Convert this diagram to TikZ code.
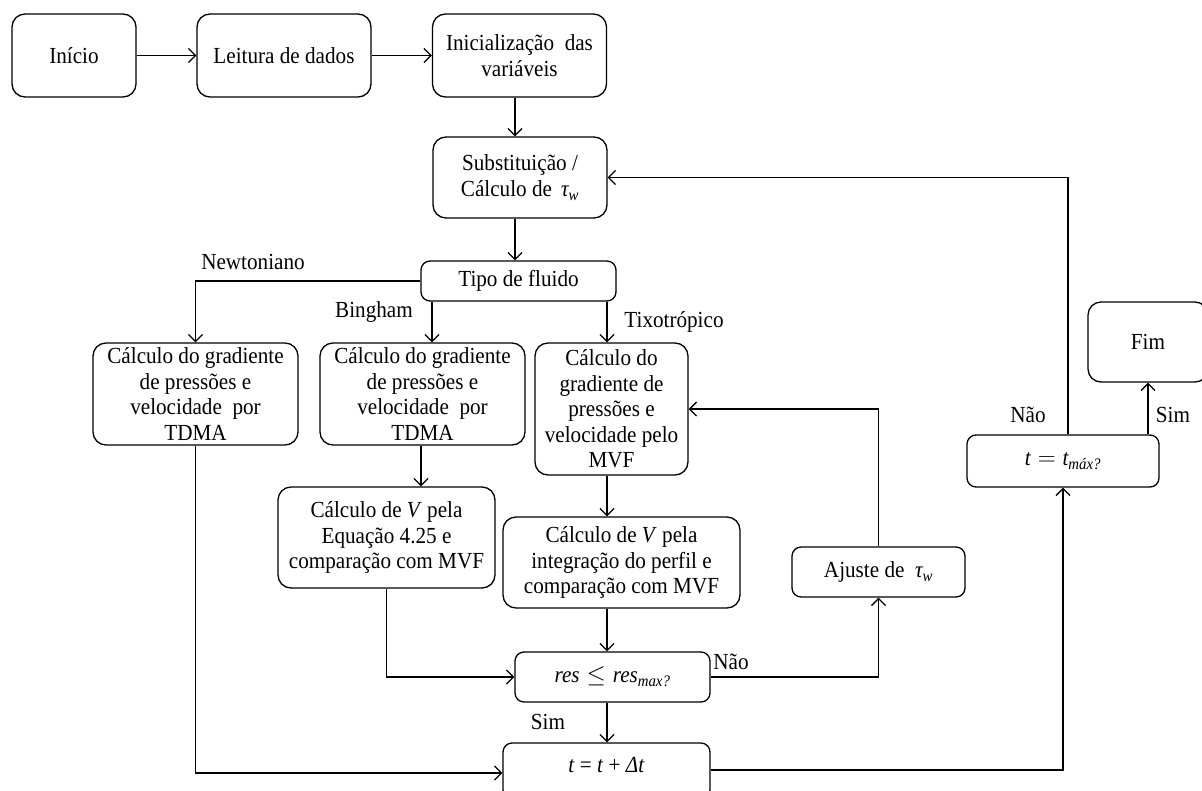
\documentclass[tikz,border=0pt]{standalone}
\usepackage{amsmath}
\usepackage{fontspec}
\setmainfont{Liberation Serif}[FakeStretch=0.92]
\usetikzlibrary{arrows.meta,calc}
\begin{document}
\begin{tikzpicture}[x=1pt,y=-1pt,
  box/.style={draw, line width=1.3pt, rounded corners=13pt, align=center, inner sep=2pt, font=\fontsize{23}{25.5}\selectfont},
  sbox/.style={box, rounded corners=9pt},
  lbl/.style={font=\fontsize{23}{25.5}\selectfont, inner sep=0pt},
  arr/.style={line width=1.3pt, -{Straight Barb[length=7pt,width=14pt,line width=1.3pt]}}]
\useasboundingbox (0,0) rectangle (1202,790);
% nodes
\node[box, minimum width=124pt, minimum height=83pt] (inicio) at (74,55.5) {Início};
\node[box, minimum width=174pt, minimum height=83pt] (leitura) at (284,55.5) {Leitura de dados};
\node[box, minimum width=174pt, minimum height=83pt] (init) at (519.5,55.5) {Inicialização\ \ das\\variáveis};
\node[box, minimum width=174pt, minimum height=81pt] (subst) at (520,177.5) {Substituição /\\Cálculo de\ \,$\textit{τ}_{\textit{w}}$};
\node[sbox, minimum width=195pt, minimum height=40pt] (tipo) at (518.5,281) {Tipo de fluido};
\node[box, minimum width=205pt, minimum height=102pt] (b1) at (195.5,394) {Cálculo do gradiente\\de pressões e\\velocidade\ \ por\\TDMA};
\node[box, minimum width=205pt, minimum height=102pt] (b2) at (422.5,394) {Cálculo do gradiente\\de pressões e\\velocidade\ \ por\\TDMA};
\node[box, minimum width=153pt, minimum height=132pt] (b3) at (611.5,409) {Cálculo do\\gradiente de\\pressões e\\velocidade pelo\\MVF};
\node[box, minimum width=217pt, minimum height=101pt] (b4) at (386.5,537.5) {Cálculo de \textit{V} pela\\Equação 4.25 e\\comparação com MVF};
\node[box, minimum width=237pt, minimum height=91pt] (b5) at (621.5,562.5) {Cálculo de \textit{V} pela\\integração do perfil e\\comparação com MVF};
\node[sbox, minimum width=195pt, minimum height=50pt] (res) at (612.5,677) {$\textit{res} \leq \textit{res}_{\textit{max?}}$};
\node[sbox, minimum width=207pt, minimum height=56pt, text depth=12pt] (tb) at (606.5,771) {\textit{t} = \textit{t} + \textit{Δt}};
\node[sbox, minimum width=173pt, minimum height=50pt] (ajuste) at (878.5,572) {Ajuste de\ \ $\textit{τ}_{\textit{w}}$};
\node[sbox, minimum width=192pt, minimum height=52pt] (tmax) at (1063,461) {$\textit{t} = \textit{t}_{\textit{máx?}}$};
\node[box, minimum width=120pt, minimum height=80pt] (fim) at (1148,342) {Fim};
% labels
\node[lbl] (lnewt) at (253,262) {Newtoniano};
\node[lbl] (lbing) at (374,312) {Bingham};
\node[lbl] (ltixo) at (674,322) {Tixotrópico};
\node[lbl] (lnao1) at (731,662) {Não};
\node[lbl] (lsim1) at (548,722) {Sim};
\node[lbl] (lnao2) at (1028,415) {Não};
\node[lbl] (lsim2) at (1173,415) {Sim};
% connectors
\draw[arr] (inicio) -- (leitura);
\draw[arr] (leitura) -- (init);
\draw[arr] ([xshift=-4.5pt]init.south) -- ([xshift=-4.5pt]init.south |- subst.north);
\draw[arr] ([xshift=-5pt]subst.south) -- ([xshift=-5pt]subst.south |- tipo.north);
\draw[arr] (tipo.west) -| (b1.north);
\draw[arr] ([xshift=9.5pt]b2.north |- tipo.south) -- ([xshift=9.5pt]b2.north);
\draw[arr] ([xshift=-4.5pt]b3.north |- tipo.south) -- ([xshift=-4.5pt]b3.north);
\draw[arr] ([xshift=-1.5pt]b2.south) -- ([xshift=-1.5pt]b2.south |- b4.north);
\draw[arr] ([xshift=-4.5pt]b3.south) -- ([xshift=-4.5pt]b3.south |- b5.north);
\draw[arr] ([xshift=-14.5pt]b5.south) -- ([xshift=-14.5pt]b5.south |- res.north);
\draw[arr] (b4.south) |- (res.west);
\draw[arr] (res.east) -| (ajuste.south);
\draw[arr] (ajuste.north) |- (b3.east);
\draw[arr] ([xshift=-5.5pt]res.south) -- ([xshift=-5.5pt]res.south |- tb.north);
\draw[arr] (b1.south) |- ([yshift=-2pt]tb.west);
\draw[arr] ([yshift=1pt]tb.east) -| (tmax.south);
\draw[arr] ([xshift=5pt]tmax.north) |- (subst.east);
\draw[arr] (fim.south |- tmax.north) -- (fim.south);
\end{tikzpicture}
\end{document}
